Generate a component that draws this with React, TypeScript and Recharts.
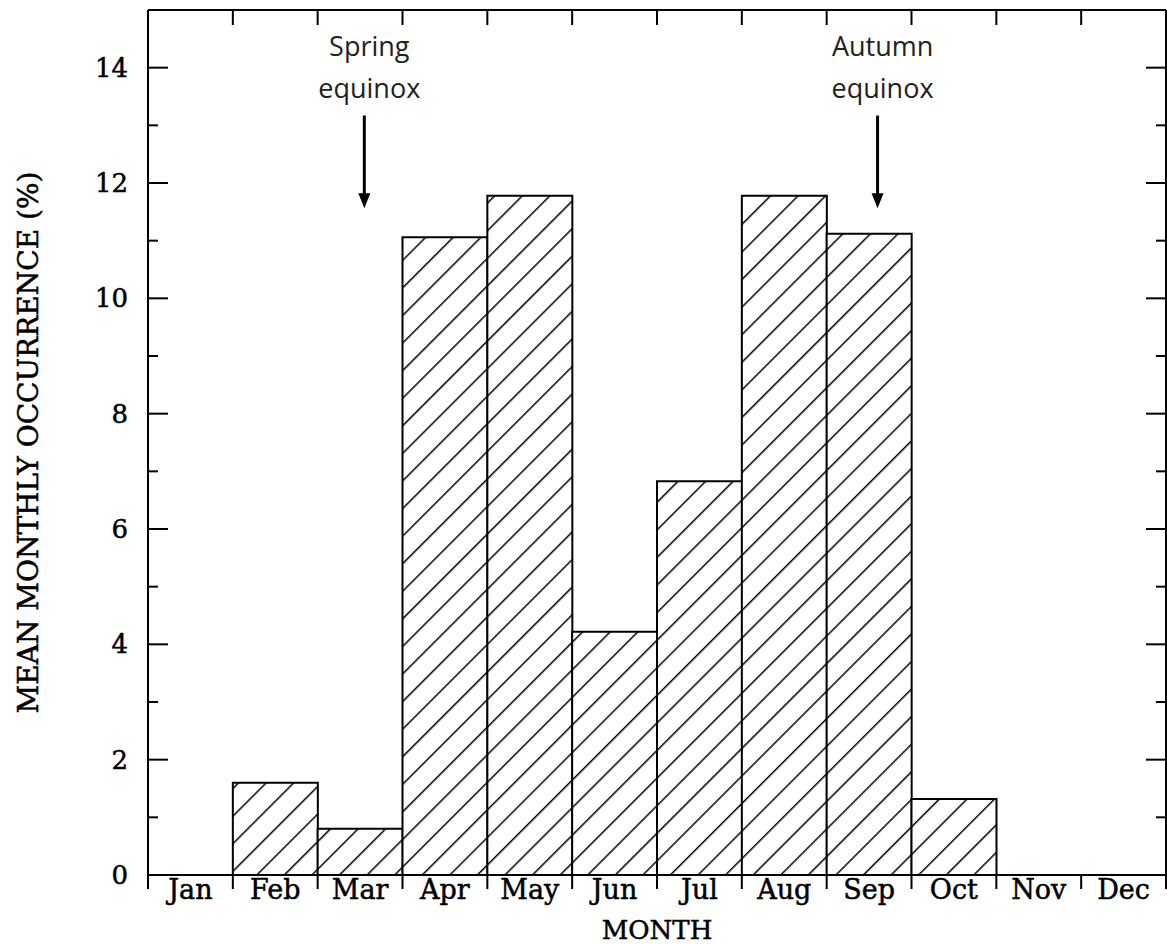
import React from 'react';
import { ComposedChart, Bar, Line, XAxis, YAxis, ReferenceLine } from 'recharts';

const months = ['Jan', 'Feb', 'Mar', 'Apr', 'May', 'Jun', 'Jul', 'Aug', 'Sep', 'Oct', 'Nov', 'Dec'];
const occurrence = [0, 1.6, 0.8, 11.06, 11.78, 4.22, 6.83, 11.78, 11.12, 1.32, 0, 0];
const yTicks = [0, 1, 2, 3, 4, 5, 6, 7, 8, 9, 10, 11, 12, 13, 14];
const equinoxNames = [['Spring', 'equinox'], ['Autumn', 'equinox']];
const equinoxMonthPos = [2.55, 8.6];
const arrowFrom = 13.17;
const arrowTo = 11.56;
const yMax = 15;

const data = months.map((m, i) => ({ month: m, value: occurrence[i], pos: i + 0.5 }));

const SERIF = 'DejaVu Serif';
const PLOT_TOP = 10;

const XTickBottom = (props: any) => {
  const { x, y, payload, index, plotTop } = props;
  const half = payload && payload.offset ? payload.offset : 42.4;
  return (
    <g>
      <line x1={x - half} x2={x - half} y1={y} y2={y + 14} stroke="#000" strokeWidth={2} />
      {index > 0 && (
        <line x1={x - half} x2={x - half} y1={plotTop} y2={plotTop + 15} stroke="#000" strokeWidth={2} />
      )}
      {index === months.length - 1 && (
        <line x1={x + half} x2={x + half} y1={y} y2={y + 14} stroke="#000" strokeWidth={2} />
      )}
      <text x={x} y={y + 24} textAnchor="middle" fontFamily={SERIF} fontSize={27} fill="#000" stroke="#000" strokeWidth={0.5}>
        {payload.value}
      </text>
    </g>
  );
};

const YTickLeft = (props: any) => {
  const { x, y, payload } = props;
  const major = payload.value % 2 === 0;
  return (
    <g>
      <line x1={x} x2={x + (major ? 20 : 10)} y1={y} y2={y} stroke="#000" strokeWidth={2} />
      {major && (
        <text x={x - 20} y={y + 9} textAnchor="end" fontFamily={SERIF} fontSize={26} fill="#000" stroke="#000" strokeWidth={0.5}>
          {payload.value}
        </text>
      )}
    </g>
  );
};

const YTickRight = (props: any) => {
  const { x, y, payload } = props;
  const major = payload.value % 2 === 0;
  return (
    <line x1={x} x2={x - (major ? 20 : 10)} y1={y} y2={y} stroke="#000" strokeWidth={2} />
  );
};

const YLabel = (props: any) => {
  const vb = props.viewBox || { x: 0, y: 10, width: 148, height: 865 };
  const cx = vb.x + 38;
  const cy = vb.y + vb.height / 2;
  return (
    <text
      x={cx}
      y={cy}
      transform={`rotate(-90, ${cx}, ${cy})`}
      textAnchor="middle"
      fontFamily={SERIF}
      fontSize={28}
      fill="#000"
      stroke="#000"
      strokeWidth={0.5}
    >
      MEAN MONTHLY OCCURRENCE (%)
    </text>
  );
};

const makeArrow = (lines: string[]) => (props: any) => {
  const { x1, y1, x2, y2 } = props;
  const top = Math.min(y1, y2);
  const bottom = Math.max(y1, y2);
  const x = x1;
  return (
    <g>
      <line x1={x} x2={x} y1={top} y2={bottom - 12} stroke="#000" strokeWidth={3} />
      <polygon points={`${x - 6},${bottom - 15} ${x + 6},${bottom - 15} ${x},${bottom}`} fill="#000" />
      <text x={x + 5} y={top - 60} textAnchor="middle" fontFamily="Open Sans" fontSize={27} fill="#222">
        {lines[0]}
      </text>
      <text x={x + 5} y={top - 18} textAnchor="middle" fontFamily="Open Sans" fontSize={27} fill="#222">
        {lines[1]}
      </text>
    </g>
  );
};

export default function App() {
  return (
    <div style={{ position: 'absolute', left: 0, top: 0, width: 1167, height: 945, background: '#fff' }}>
      <ComposedChart
        width={1167}
        height={945}
        data={data}
        margin={{ top: PLOT_TOP - 1, right: 0, bottom: 0, left: 0 }}
        barCategoryGap={0}
        barGap={0}
      >
        <defs>
          <pattern
            id="hatch"
            patternUnits="userSpaceOnUse"
            width={19.5}
            height={19.5}
            patternTransform="rotate(45)"
          >
            <rect x={0} y={0} width={19.5} height={19.5} fill="#fff" />
            <line x1={0} y1={0} x2={0} y2={19.5} stroke="#000" strokeWidth={3} />
          </pattern>
        </defs>
        <XAxis
          dataKey="month"
          height={70}
          interval={0}
          tickSize={0}
          tickMargin={0}
          tickLine={false}
          tick={<XTickBottom plotTop={PLOT_TOP} />}
          axisLine={{ stroke: '#000', strokeWidth: 2 }}
          label={{
            value: 'MONTH',
            position: 'insideBottom',
            offset: 6,
            fontFamily: SERIF,
            fontSize: 26,
            fill: '#000',
            stroke: '#000',
            strokeWidth: 0.5,
          }}
        />
        <XAxis
          xAxisId="num"
          dataKey="pos"
          type="number"
          orientation="top"
          domain={[0, 12]}
          allowDataOverflow
          height={1}
          tick={false}
          tickLine={false}
          axisLine={{ stroke: '#000', strokeWidth: 2 }}
        />
        <YAxis
          domain={[0, yMax]}
          ticks={yTicks}
          interval={0}
          width={148}
          tickSize={0}
          tickMargin={0}
          tickLine={false}
          tick={<YTickLeft />}
          axisLine={{ stroke: '#000', strokeWidth: 2 }}
          label={<YLabel />}
        />
        <YAxis
          yAxisId="right"
          orientation="right"
          domain={[0, yMax]}
          ticks={yTicks}
          interval={0}
          width={1}
          tickSize={0}
          tickMargin={0}
          tickLine={false}
          tick={<YTickRight />}
          axisLine={{ stroke: '#000', strokeWidth: 2 }}
        />
        <Bar
          dataKey="value"
          fill="url(#hatch)"
          stroke="#000"
          strokeWidth={2}
          isAnimationActive={false}
        />
        <Line
          xAxisId="num"
          yAxisId="right"
          dataKey="value"
          stroke="none"
          dot={false}
          activeDot={false}
          legendType="none"
          isAnimationActive={false}
        />
        {equinoxMonthPos.map((pos, i) => (
          <ReferenceLine
            key={i}
            xAxisId="num"
            segment={[
              { x: pos, y: arrowFrom },
              { x: pos, y: arrowTo },
            ]}
            shape={makeArrow(equinoxNames[i])}
          />
        ))}
      </ComposedChart>
    </div>
  );
}
